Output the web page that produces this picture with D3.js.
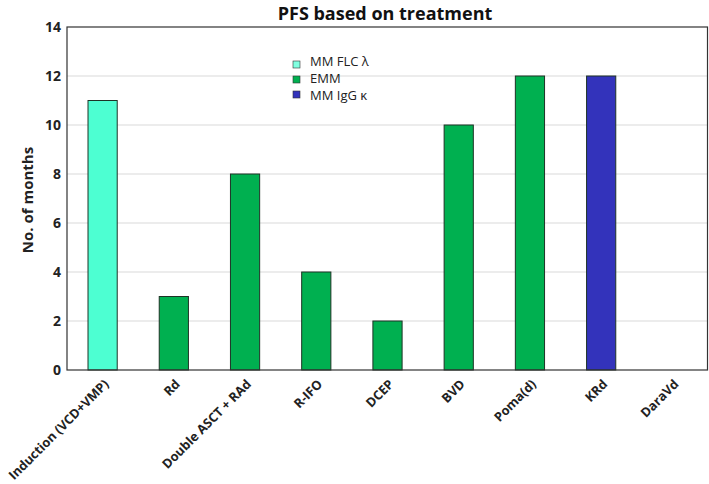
<!DOCTYPE html>
<html><head><meta charset="utf-8">
<script src="https://cdn.jsdelivr.net/npm/d3@7"></script>
<style>body{margin:0;background:#fff}svg{display:block}</style>
</head><body>
<svg id="c" width="709" height="484"></svg>
<script>
const categories = ["Induction (VCD+VMP)","Rd","Double ASCT + RAd","R-IFO","DCEP","BVD","Poma(d)","KRd","DaraVd"];
const values = [11,3,8,4,2,10,12,12,0];
const groups = ["MM FLC λ","EMM","EMM","EMM","EMM","EMM","EMM","MM IgG κ","EMM"];
const legendLabels = ["MM FLC λ","EMM","MM IgG κ"];
const legendColors = ["#4dffd2","#00b050","#3333bb"];
const yTicks = [0,2,4,6,8,10,12,14];
const title = "PFS based on treatment";
const yTitle = "No. of months";

const svg = d3.select("#c");
const m = {l:67, r:1, t:27, b:114};
const W = 709, H = 484;
const x = d3.scaleBand().domain(categories).range([m.l, W - m.r]).paddingInner(0.59).paddingOuter(0.295);
const y = d3.scaleLinear().domain([0,14]).range([H - m.b, m.t]);
const color = d3.scaleOrdinal().domain(legendLabels).range(legendColors);
const font = "'Open Sans', sans-serif";

// gridlines
svg.append("g").selectAll("line").data(yTicks.filter(d => d > 0 && d < 14)).join("line")
  .attr("x1", m.l).attr("x2", W - m.r).attr("y1", d => y(d)).attr("y2", d => y(d))
  .attr("stroke", "#d9d9d9").attr("stroke-width", 1);

// bars
svg.append("g").selectAll("rect").data(categories.map((c,i)=>({c, v: values[i], g: groups[i]})).filter(d=>d.v>0)).join("rect")
  .attr("x", d => x(d.c)).attr("width", x.bandwidth())
  .attr("y", d => y(d.v)).attr("height", d => y(0) - y(d.v))
  .attr("fill", d => color(d.g)).attr("stroke", "#1e3326").attr("stroke-width", 1);

// frame
svg.append("rect").attr("x", m.l).attr("y", m.t).attr("width", W - m.r - m.l - 0.5).attr("height", y(0) - m.t)
  .attr("fill", "none").attr("stroke", "#333").attr("stroke-width", 1.2);

// y axis
const ya = svg.append("g").attr("transform", `translate(${m.l},0)`)
  .call(d3.axisLeft(y).tickValues(yTicks).tickSize(0).tickPadding(6));
ya.select(".domain").remove();
ya.selectAll("text").attr("font-family", font).attr("font-weight", "bold").attr("font-size", 14).attr("fill", "#222");

// x axis
const xa = svg.append("g").attr("transform", `translate(0,${y(0)})`)
  .call(d3.axisBottom(x).tickSize(0).tickPadding(0));
xa.select(".domain").remove();
xa.selectAll("text").attr("font-family", font).attr("font-weight", "bold").attr("font-size", 12.8).attr("fill", "#222")
  .attr("text-anchor", "end").attr("y", 0).attr("dy", 0)
  .attr("transform", "translate(7,15) rotate(-45)");

// title
svg.append("text").attr("x", 385).attr("y", 20).attr("text-anchor", "middle")
  .attr("font-family", font).attr("font-weight", "bold").attr("font-size", 18).attr("fill", "#111").text(title);

// y title
svg.append("text").attr("transform", "translate(33,200) rotate(-90)").attr("text-anchor", "middle")
  .attr("font-family", font).attr("font-weight", "bold").attr("font-size", 15).attr("fill", "#222").text(yTitle);

// legend
const lg = svg.append("g").selectAll("g").data(legendLabels).join("g")
  .attr("transform", (d,i) => `translate(293,${61 + i*15})`);
lg.append("rect").attr("width", 7).attr("height", 7)
  .attr("fill", (d,i) => i === 0 ? "#80ffe0" : legendColors[i]).attr("stroke", "#333").attr("stroke-width", 0.6);
svg.append("g").selectAll("text").data(legendLabels).join("text")
  .attr("x", 310).attr("y", (d,i) => 66 + i*17)
  .attr("font-family", font).attr("font-size", 13).attr("fill", "#222").text(d => d);
</script>
</body></html>
